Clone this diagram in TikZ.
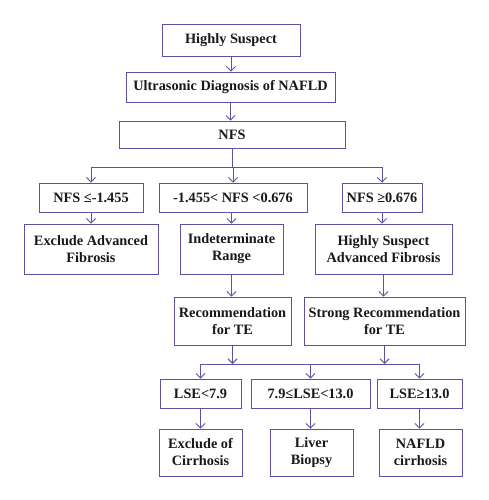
\documentclass[tikz,border=0pt]{standalone}
\usepackage{fontspec}
\setmainfont{Liberation Serif}
\usetikzlibrary{arrows.meta}
\definecolor{boxline}{HTML}{5A52A6}
\tikzset{
  fbox/.style={draw=boxline, line width=0.9pt, inner sep=0pt, align=center,
    font=\fontsize{14.3}{17}\selectfont\bfseries, text=black!90},
  conn/.style={draw=boxline, line width=0.9pt},
  arr/.style={conn, -{Straight Barb[length=4.5pt,width=9pt,line width=0.9pt]}},
}
\begin{document}
\begin{tikzpicture}[x=1pt,y=-1pt]
\useasboundingbox (0,0) rectangle (489,500);
\fill[white] (0,0) rectangle (489,500);
% boxes
\node[fbox, minimum width=138pt, minimum height=32pt] (hs) at (231,40) {Highly Suspect};
\node[fbox, minimum width=209pt, minimum height=30pt] (us) at (230.5,87) {Ultrasonic Diagnosis of NAFLD};
\node[fbox, minimum width=226pt, minimum height=27pt] (nfs) at (232,134.5) {NFS};
\node[fbox, minimum width=104pt, minimum height=29pt] (n1) at (91,197.5) {NFS ≤-1.455};
\node[fbox, minimum width=148pt, minimum height=29pt] (n2) at (233,197.5) {-1.455< NFS <0.676};
\node[fbox, minimum width=80pt, minimum height=29pt] (n3) at (382,197.5) {NFS ≥0.676};
\node[fbox, minimum width=134pt, minimum height=50pt] (e1) at (91,249) {Exclude Advanced\\Fibrosis};
\node[fbox, minimum width=103pt, minimum height=50pt] (e2) at (231.5,249) {Indeterminate\\Range};
\node[fbox, minimum width=137pt, minimum height=50pt] (e3) at (383.5,249) {Highly Suspect\\Advanced Fibrosis};
\node[fbox, minimum width=117pt, minimum height=48pt] (r1) at (232.5,321) {Recommendation\\for TE};
\node[fbox, minimum width=161pt, minimum height=48pt] (r2) at (384.5,321) {Strong Recommendation\\for TE};
\node[fbox, minimum width=81pt, minimum height=29pt] (l1) at (200.5,393.5) {LSE<7.9};
\node[fbox, minimum width=119pt, minimum height=29pt] (l2) at (310.5,393.5) {7.9≤LSE<13.0};
\node[fbox, minimum width=85pt, minimum height=29pt] (l3) at (419.5,393.5) {LSE≥13.0};
\node[fbox, minimum width=83pt, minimum height=47pt] (f1) at (200.5,452.5) {Exclude of\\Cirrhosis};
\node[fbox, minimum width=83pt, minimum height=47pt] (f2) at (311.5,452.5) {Liver\\Biopsy};
\node[fbox, minimum width=83pt, minimum height=47pt] (f3) at (420.5,452.5) {NAFLD\\cirrhosis};
% branch coordinates
\coordinate (b1) at (0,167);
\coordinate (b2) at (0,364);
% connectors
\draw[arr] (hs.south) -- (hs.south |- us.north);
\draw[arr] (us.south) -- (us.south |- nfs.north);
\draw[conn] (nfs.south) -- (nfs.south |- b1);
\draw[conn] (n1.north |- b1) -- (n3.north |- b1);
\draw[arr] (n1.north |- b1) -- (n1.north);
\draw[arr] (n2.north |- b1) -- (n2.north);
\draw[arr] (n3.north |- b1) -- (n3.north);
\draw[arr] (e1.north |- n1.south) -- (e1.north);
\draw[arr] (e2.north |- n2.south) -- (e2.north);
\draw[arr] (n3.south) -- (n3.south |- e3.north);
\draw[arr] (e2.south) -- (e2.south |- r1.north);
\draw[arr] (e3.south) -- (e3.south |- r2.north);
\draw[arr] (r1.south) -- (r1.south |- b2);
\draw[arr] (r2.south) -- (r2.south |- b2);
\draw[conn] (l1.north |- b2) -- (l3.north |- b2);
\draw[arr] (l1.north |- b2) -- (l1.north);
\draw[arr] (l2.north |- b2) -- (l2.north);
\draw[arr] (l3.north |- b2) -- (l3.north);
\draw[arr] (l1.south) -- (l1.south |- f1.north);
\draw[arr] (l2.south) -- (l2.south |- f2.north);
\draw[arr] (l3.south) -- (l3.south |- f3.north);
\end{tikzpicture}
\end{document}
